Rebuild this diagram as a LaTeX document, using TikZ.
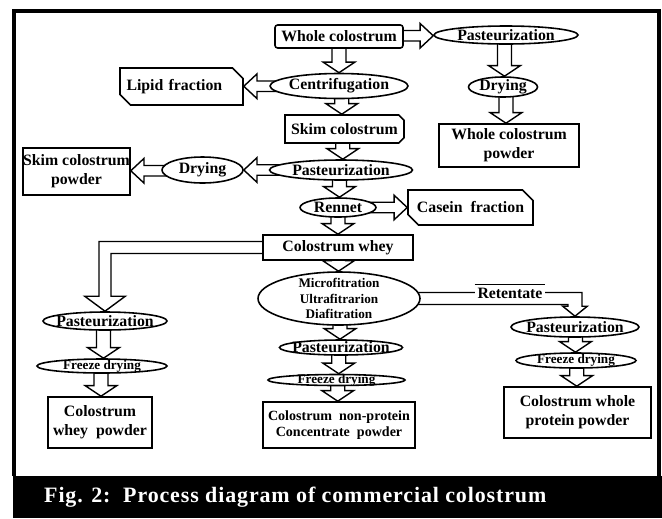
\documentclass[tikz,border=0pt]{standalone}
\usepackage{fontspec}
\setmainfont{Liberation Serif}
\usetikzlibrary{shapes.geometric,shapes.misc,calc,backgrounds}
% block arrows between two named nodes
\newcommand\dnarr[2]{\draw[blk] let \p1=(#1.center), \p2=(#2.north), \p3=($(#1.center)!.5!(#2.north)$) in
  (\x3-4pt,\y1) -- (\x3-4pt,\y2+6pt) -- (\x3-9pt,\y2+6pt) -- (\x3,\y2) -- (\x3+9pt,\y2+6pt) -- (\x3+4pt,\y2+6pt) -- (\x3+4pt,\y1);}
\newcommand\rtarr[2]{\draw[blk] let \p1=(#1.center), \p2=(#2.west), \p3=($(#1.center)!.5!(#2.west)$) in
  (\x1,\y3+3pt) -- (\x2-7.5pt,\y3+3pt) -- (\x2-7.5pt,\y3+7pt) -- (\x2,\y3) -- (\x2-7.5pt,\y3-7pt) -- (\x2-7.5pt,\y3-3pt) -- (\x1,\y3-3pt);}
\newcommand\lfarr[2]{\draw[blk] let \p1=(#1.center), \p2=(#2.east), \p3=($(#1.center)!.5!(#2.east)$) in
  (\x1,\y3+3pt) -- (\x2+7.5pt,\y3+3pt) -- (\x2+7.5pt,\y3+7pt) -- (\x2,\y3) -- (\x2+7.5pt,\y3-7pt) -- (\x2+7.5pt,\y3-3pt) -- (\x1,\y3-3pt);}

\begin{document}
\begin{tikzpicture}[x=0.02cm,y=-0.02cm,
    box/.style={draw,fill=white,line width=0.9pt,inner sep=0pt,align=center,font=\bfseries\fontsize{9}{11}\selectfont},
    oval/.style={ellipse,draw,fill=white,line width=0.9pt,inner xsep=-30pt,inner ysep=-12pt,font=\bfseries\fontsize{9}{11}\selectfont},
    cut/.style={box,chamfered rectangle,chamfered rectangle corners={north east,south west},chamfered rectangle xsep=3pt,chamfered rectangle ysep=3pt},
    small/.style={font=\bfseries\fontsize{7.5}{8.8}\selectfont},
    blk/.style={draw,line width=0.8pt,line join=miter}]
  \useasboundingbox (0,0) rectangle (662,518);
  \fill (13,476) rectangle (662,518);
  \draw[line width=1.8pt] (14,476) -- (14,11) -- (659,11) -- (659,476);
  \node[anchor=west,text=white,font=\bfseries\fontsize{12.5}{14}\selectfont\addfontfeatures{LetterSpace=4}] (caption) at (38,497)
    {Fig. 2:\ \ Process diagram of commercial colostrum};

  \draw
  (339,36.5) node[box,rounded corners=1.5pt,minimum width=2.56cm,minimum height=0.46cm] (whole) {Whole colostrum}
  (506,35) node[oval,minimum width=2.88cm,minimum height=0.36cm] (pastW) {Pasteurization}
  (503,87) node[oval,minimum width=1.38cm,minimum height=0.40cm] (dryW) {Drying}
  (509,145.5) node[box,minimum width=2.80cm,minimum height=0.86cm] (wpowder) {Whole colostrum\\powder}
  (339,86) node[oval,minimum width=2.76cm,minimum height=0.50cm] (centr) {Centrifugation}
  (181.5,86.5) node[cut,minimum width=2.46cm,minimum height=0.74cm,text width=2.2cm,align=left] (lipid) {Lipid fraction}
  (344.5,129) node[box,chamfered rectangle,chamfered rectangle corners={north east,south east},chamfered rectangle xsep=1.5pt,chamfered rectangle ysep=1.5pt,minimum width=2.38cm,minimum height=0.56cm] (skim) {Skim colostrum}
  (341,170) node[oval,minimum width=2.86cm,minimum height=0.40cm] (pastS) {Pasteurization}
  (202.5,170) node[oval,minimum width=1.62cm,minimum height=0.52cm] (dryS) {Drying}
  (76.5,171.5) node[box,minimum width=2.14cm,minimum height=0.94cm] (spowder) {Skim colostrum\\powder}
  (338,207.5) node[oval,minimum width=1.52cm,minimum height=0.38cm] (rennet) {Rennet}
  (470.5,207.5) node[cut,minimum width=2.50cm,minimum height=0.70cm] (casein) {Casein\ \ fraction}
  (338,247.5) node[box,minimum width=3.00cm,minimum height=0.50cm] (cwhey) {Colostrum whey};

  \draw
  (339,298.5) node[oval,small,align=center,minimum width=3.24cm,minimum height=1.06cm] (membr) {Microfitration\\Ultrafitrarion\\Diafitration}
  (105,321) node[oval,minimum width=2.48cm,minimum height=0.36cm] (pastL) {Pasteurization}
  (102,366) node[oval,small,minimum width=2.60cm,minimum height=0.28cm] (freezeL) {Freeze drying}
  (100,422.5) node[box,minimum width=2.08cm,minimum height=1.02cm] (wheypowder) {Colostrum\\whey\ \ powder}
  (341,347.5) node[oval,minimum width=2.46cm,minimum height=0.30cm] (pastM) {Pasteurization}
  (336.5,380) node[oval,small,minimum width=2.74cm,minimum height=0.22cm] (freezeM) {Freeze drying}
  (339,425) node[box,font=\bfseries\fontsize{8}{9}\selectfont,minimum width=3.04cm,minimum height=0.92cm] (npowder) {Colostrum\ \ non-protein\\Concentrate\ \ powder}
  (575,327) node[oval,minimum width=2.56cm,minimum height=0.40cm] (pastR) {Pasteurization}
  (576,360.5) node[oval,small,minimum width=2.40cm,minimum height=0.30cm] (freezeR) {Freeze drying}
  (577.5,412.5) node[box,minimum width=2.94cm,minimum height=1.02cm] (ppowder) {Colostrum whole\\protein powder};

  \begin{scope}[on background layer]
    \rtarr{whole}{pastW}
    \dnarr{pastW}{dryW}
    \dnarr{dryW}{wpowder}
    \dnarr{whole}{centr}
    \lfarr{centr}{lipid}
    \dnarr{centr}{skim}
    \dnarr{skim}{pastS}
    \lfarr{pastS}{dryS}
    \lfarr{dryS}{spowder}
    \dnarr{pastS}{rennet}
    \rtarr{rennet}{casein}
    \dnarr{rennet}{cwhey}
    \dnarr{cwhey}{membr}
    \dnarr{membr}{pastM}
    \dnarr{pastM}{freezeM}
    \dnarr{freezeM}{npowder}
    \dnarr{pastL}{freezeL}
    \dnarr{freezeL}{wheypowder}
    \dnarr{pastR}{freezeR}
    \dnarr{freezeR}{ppowder}
    % whey side stream
    \draw[blk] let \p1=(cwhey.center), \p2=(pastL.north) in
      (\x1,\y1+3.4pt) -- (\x2-3.4pt,\y1+3.4pt) -- (\x2-3.4pt,\y2+8.5pt) -- (\x2-11.5pt,\y2+8.5pt) -- (\x2,\y2)
      -- (\x2+11.5pt,\y2+8.5pt) -- (\x2+3.4pt,\y2+8.5pt) -- (\x2+3.4pt,\y1-3.4pt) -- (\x1,\y1-3.4pt);
    % retentate stream
    \draw[blk] let \p1=(membr.center), \p2=(pastR.north) in
      (\x1,\y1+3.4pt) -- (\x2+4pt,\y1+3.4pt) -- (\x2+4pt,\y2+5.7pt) -- (\x2+7pt,\y2+5.7pt) -- (\x2,\y2)
      -- (\x2-7pt,\y2+5.7pt) -- (\x2-4pt,\y2+5.7pt) -- (\x2-4pt,\y1-3.4pt) -- (\x1,\y1-3.4pt);
  \end{scope}

  \node[fill=white,inner sep=1.5pt,font=\bfseries\fontsize{9}{11}\selectfont] (retentate) at (510,293) {Retentate};
  \draw[line width=0.6pt] (retentate.north west) -- (retentate.north east);
\end{tikzpicture}
\end{document}
